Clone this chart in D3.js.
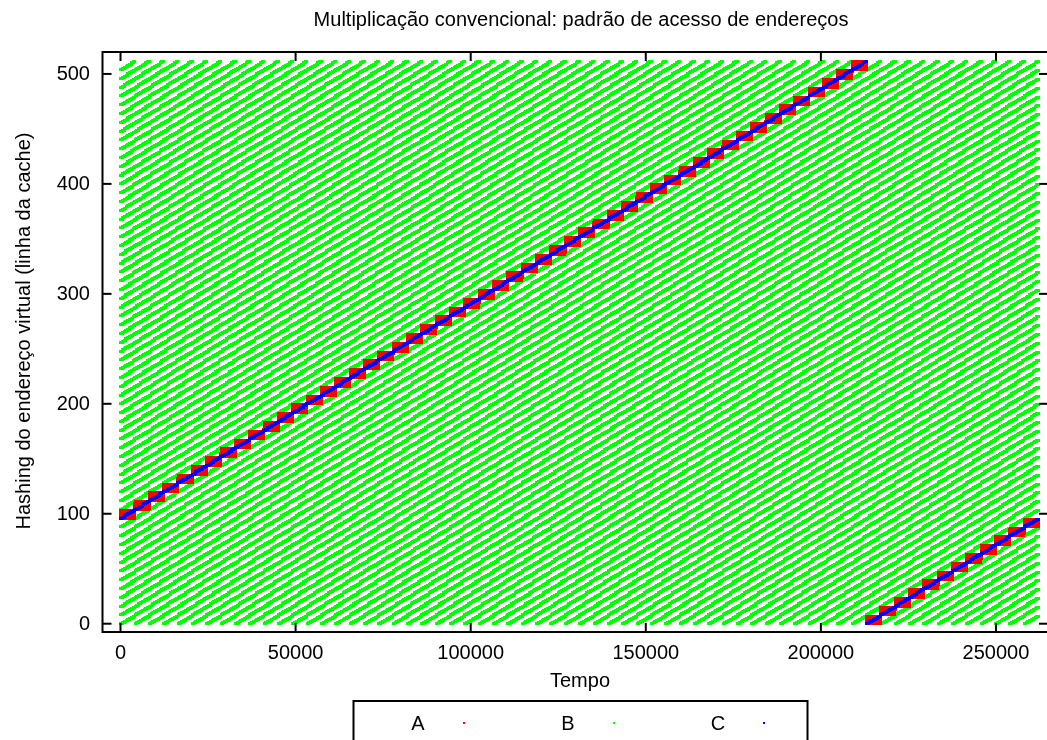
<!DOCTYPE html>
<html>
<head>
<meta charset="utf-8">
<script src="https://cdn.jsdelivr.net/npm/d3@7"></script>
<style>
  html, body { margin: 0; padding: 0; background: #fff; }
  #wrap { position: relative; width: 1047px; height: 740px; overflow: hidden; }
  #wrap canvas, #wrap svg { position: absolute; left: 0; top: 0; }
  text { font-family: "Liberation Sans", Arial, Helvetica, sans-serif; fill: #000; }
</style>
</head>
<body>
<div id="wrap">
  <canvas id="points" width="1047" height="740"></canvas>
  <svg id="chart" width="1047" height="740"></svg>
</div>
<script>
// Series of the trace: A and B are read, C is accumulated (C = A x B).
const seriesNames  = ["A", "B", "C"];
const seriesColors = ["#ff0000", "#00ff00", "#0000ff"];
// Cache line where each 64x64 matrix of doubles begins (all three alias the same set).
const seriesBaseLine = [96, 96, 96];
// Draw order on the plot: B underneath, then A, then C on top.
const drawOrder = [1, 0, 2];

const matrixOrder = [64];          // N, matrices are N x N
const elementBytes = [8];          // double precision
const lineBytes = [64];            // bytes per cache line
const cacheLines = [512];          // lines in the hashed cache

const xTicks = [0, 50000, 100000, 150000, 200000, 250000];
const yTicks = [0, 100, 200, 300, 400, 500];
const xDomain = [-5000, 265000];
const yDomain = [-8, 519.5];

const titleText = "Multiplicação convencional: padrão de acesso de endereços";
const xLabel = "Tempo";
const yLabel = "Hashing do endereço virtual (linha da cache)";

// Address trace of the naive triple loop: for i, for j, for k: C[i][j] += A[i][k] * B[k][j]
function accessTrace() {
  const N = matrixOrder[0], perLine = lineBytes[0] / elementBytes[0], L = cacheLines[0];
  const n = N * N * N;
  const t = new Int32Array(n);
  const lines = [new Int16Array(n), new Int16Array(n), new Int16Array(n)];
  let s = 0;
  for (let i = 0; i < N; i++) {
    for (let j = 0; j < N; j++) {
      for (let k = 0; k < N; k++) {
        t[s] = s;
        lines[0][s] = (seriesBaseLine[0] + Math.floor((i * N + k) / perLine)) % L;
        lines[1][s] = (seriesBaseLine[1] + Math.floor((k * N + j) / perLine)) % L;
        lines[2][s] = (seriesBaseLine[2] + Math.floor((i * N + j) / perLine)) % L;
        s++;
      }
    }
  }
  return { t, lines };
}

const W = 1047, H = 740;
const frame = { left: 102.5, right: 1048, top: 52, bottom: 632 };

const x = d3.scaleLinear().domain(xDomain).range([frame.left, frame.right]);
const y = d3.scaleLinear().domain(yDomain).range([frame.bottom, frame.top]);

// ---- points on canvas ----
const trace = accessTrace();
const ctx = document.getElementById("points").getContext("2d");
ctx.save();
ctx.beginPath();
ctx.rect(frame.left, frame.top, frame.right - frame.left, frame.bottom - frame.top);
ctx.clip();
drawOrder.forEach(si => {
  ctx.fillStyle = seriesColors[si];
  const ln = trace.lines[si];
  const seen = new Set();
  for (let s = 0; s < trace.t.length; s++) {
    const px = Math.round(x(trace.t[s])), py = Math.round(y(ln[s]));
    const key = px * 1000 + py;
    if (seen.has(key)) continue;
    seen.add(key);
    ctx.fillRect(px - 1, py - 1, 3, 3);
  }
});
ctx.restore();

// ---- axes, frame, labels on svg ----
const svg = d3.select("#chart");
const fontSize = 20;

const xAxisBottom = d3.axisBottom(x).tickValues(xTicks).tickSize(-9).tickPadding(13).tickFormat(d3.format("d"));
const xAxisTop = d3.axisTop(x).tickValues(xTicks).tickSize(-9).tickFormat("");
const yAxisLeft = d3.axisLeft(y).tickValues(yTicks).tickSize(-9).tickPadding(12.5).tickFormat(d3.format("d"));
const yAxisRight = d3.axisRight(y).tickValues(yTicks).tickSize(-9).tickFormat("");

function styleAxis(g) {
  g.select(".domain").remove();
  g.selectAll(".tick line").attr("stroke", "#000").attr("stroke-width", 2);
  g.selectAll(".tick text").attr("font-size", fontSize).attr("font-family", null);
}

svg.append("g").attr("transform", `translate(0,${frame.bottom})`).call(xAxisBottom).call(styleAxis);
svg.append("g").attr("transform", `translate(0,${frame.top})`).call(xAxisTop).call(styleAxis);
svg.append("g").attr("transform", `translate(${frame.left},0)`).call(yAxisLeft).call(styleAxis);
svg.append("g").attr("transform", `translate(${frame.right},0)`).call(yAxisRight).call(styleAxis);

svg.append("rect")
  .attr("x", frame.left).attr("y", frame.top)
  .attr("width", frame.right - frame.left).attr("height", frame.bottom - frame.top)
  .attr("fill", "none").attr("stroke", "#000").attr("stroke-width", 2);

svg.append("text")
  .attr("x", 581).attr("y", 26)
  .attr("text-anchor", "middle").attr("font-size", fontSize)
  .text(titleText);

svg.append("text")
  .attr("x", 580).attr("y", 687)
  .attr("text-anchor", "middle").attr("font-size", fontSize)
  .text(xLabel);

svg.append("text")
  .attr("transform", "translate(29.5,331) rotate(-90)")
  .attr("text-anchor", "middle").attr("font-size", fontSize)
  .text(yLabel);

// ---- legend below the plot ----
const legend = svg.append("g");
legend.append("rect")
  .attr("x", 353.5).attr("y", 701)
  .attr("width", 454).attr("height", 60)
  .attr("fill", "none").attr("stroke", "#000").attr("stroke-width", 2);

const legendX = d3.scalePoint().domain(seriesNames).range([418, 718]);
seriesNames.forEach((name, i) => {
  legend.append("text")
    .attr("x", legendX(name)).attr("y", 730)
    .attr("text-anchor", "middle").attr("font-size", fontSize)
    .text(name);
  legend.append("rect")
    .attr("x", legendX(name) + 46 - 1).attr("y", 723 - 1)
    .attr("width", 2).attr("height", 2)
    .attr("fill", seriesColors[i]);
});
</script>
</body>
</html>
